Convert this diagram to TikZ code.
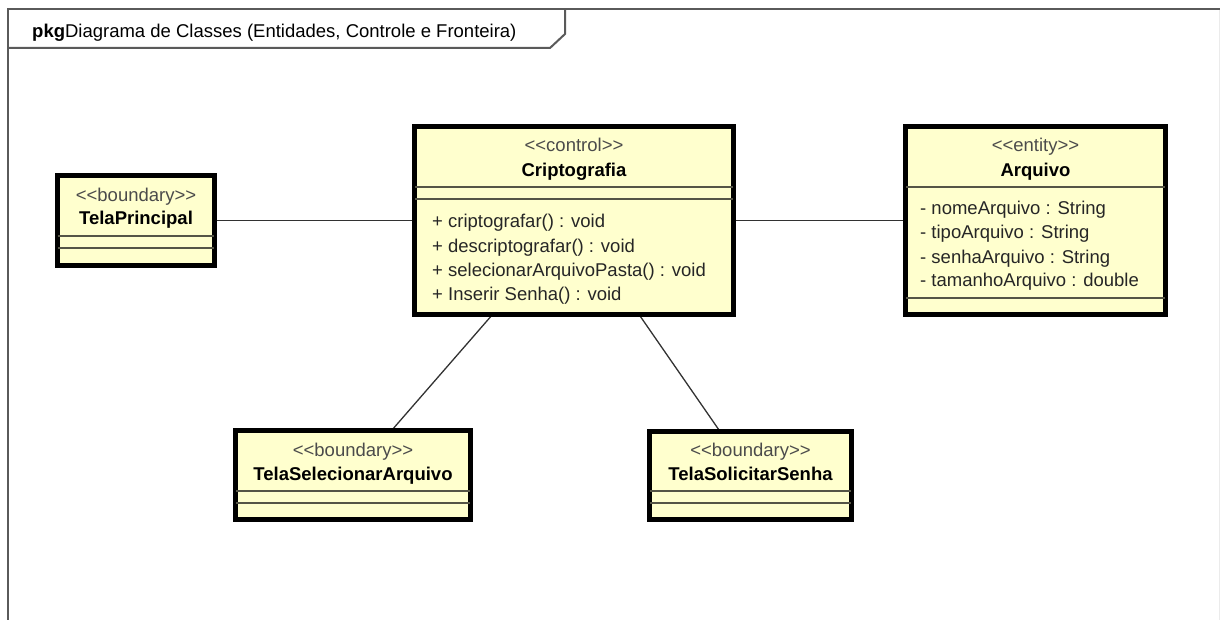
\documentclass[tikz,border=0pt]{standalone}
\usepackage{fontspec}
\setmainfont{Liberation Sans}
\definecolor{umlfill}{RGB}{255,255,206}
\definecolor{sepgray}{RGB}{85,85,70}
\definecolor{stereogray}{RGB}{75,75,75}
\definecolor{linegray}{RGB}{50,50,50}
\definecolor{framegray}{RGB}{90,90,90}
\newcommand{\umlfont}{\fontsize{18.5}{22}\selectfont}
\tikzset{
  classbox/.style={draw=black, line width=3.2pt, fill=umlfill, rectangle, inner sep=0pt},
  sepline/.style={draw=sepgray, line width=1.5pt, shorten <=1.6pt, shorten >=1.6pt},
  stereo/.style={anchor=base, inner sep=0pt, text=stereogray, font=\umlfont},
  cname/.style={anchor=base, inner sep=0pt, text=black, font=\umlfont\bfseries},
  member/.style={anchor=base west, inner sep=0pt, text=black!85, font=\umlfont},
  assoc/.style={draw=linegray, line width=1.3pt},
  frameline/.style={draw=framegray, line width=2pt},
}
\begin{document}
\begin{tikzpicture}[x=1pt, y=-1pt]
\useasboundingbox (0,0) rectangle (1220,620);

% package frame and name tab
\draw[frameline] (8,620) -- (8,9) -- (1220,9);
\draw[frameline] (8,48) -- (550,48) -- (565,34) -- (565,9);
\draw[draw=black!8, line width=1pt] (1219.5,10) -- (1219.5,620);
\node[anchor=base west, inner sep=0pt, font=\umlfont] (title) at (32,38)
  {\textbf{pkg}Diagrama de Classes (Entidades, Controle e Fronteira)};

% class boxes
\node[classbox, minimum width=156, minimum height=89] (tp) at (136,220.5) {};
\node[classbox, minimum width=318, minimum height=187] (crip) at (574,220.5) {};
\node[classbox, minimum width=259, minimum height=187] (arq) at (1035.5,220.5) {};
\node[classbox, minimum width=234, minimum height=88] (tsa) at (353,475) {};
\node[classbox, minimum width=201, minimum height=87] (tss) at (750.5,475.5) {};

% associations
\draw[assoc] (tp) -- (crip);
\draw[assoc] (crip) -- (arq);
\draw[assoc] (crip) -- (tsa);
\draw[assoc] (crip) -- (tss);

% redraw box borders above the connector ends
\foreach \n in {tp,crip,arq,tsa,tss}
  \draw[line width=3.2pt] (\n.south west) rectangle (\n.north east);

% TelaPrincipal
\node[stereo] (tpst) at (136,201.5) {<{}<boundary>{}>};
\node[cname] (tpnm) at (136,225) {TelaPrincipal};
\draw[sepline] (tp.west |- 0,236) -- (tp.east |- 0,236);
\draw[sepline] (tp.west |- 0,248) -- (tp.east |- 0,248);

% Criptografia
\node[stereo] (cpst) at (574,152) {<{}<control>{}>};
\node[cname] (cpnm) at (574,177) {Criptografia};
\draw[sepline] (crip.west |- 0,187) -- (crip.east |- 0,187);
\draw[sepline] (crip.west |- 0,199) -- (crip.east |- 0,199);
\node[member] (cpm1) at (432,228) {+ criptografar() : void};
\node[member] (cpm2) at (432,252.3) {+ descriptografar() : void};
\node[member] (cpm3) at (432,276.6) {+ selecionarArquivoPasta() : void};
\node[member] (cpm4) at (432,300.9) {+ Inserir Senha() : void};

% Arquivo
\node[stereo] (arst) at (1035.5,152) {<{}<entity>{}>};
\node[cname] (arnm) at (1035.5,177) {Arquivo};
\draw[sepline] (arq.west |- 0,187) -- (arq.east |- 0,187);
\draw[sepline] (arq.west |- 0,298) -- (arq.east |- 0,298);
\node[member] (ara1) at (920,215) {- nomeArquivo : String};
\node[member] (ara2) at (920,239) {- tipoArquivo : String};
\node[member] (ara3) at (920,263) {- senhaArquivo : String};
\node[member] (ara4) at (920,287) {- tamanhoArquivo : double};

% TelaSelecionarArquivo
\node[stereo] (tsast) at (353,456) {<{}<boundary>{}>};
\node[cname] (tsanm) at (353,480) {TelaSelecionarArquivo};
\draw[sepline] (tsa.west |- 0,491) -- (tsa.east |- 0,491);
\draw[sepline] (tsa.west |- 0,503) -- (tsa.east |- 0,503);

% TelaSolicitarSenha
\node[stereo] (tssst) at (750.5,456) {<{}<boundary>{}>};
\node[cname] (tssnm) at (750.5,480) {TelaSolicitarSenha};
\draw[sepline] (tss.west |- 0,491) -- (tss.east |- 0,491);
\draw[sepline] (tss.west |- 0,503) -- (tss.east |- 0,503);
\end{tikzpicture}
\end{document}
